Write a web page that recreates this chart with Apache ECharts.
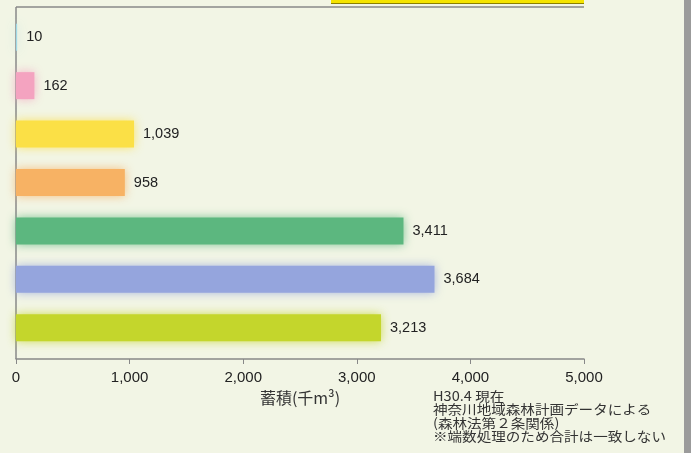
<!DOCTYPE html>
<html>
<head>
<meta charset="utf-8">
<script src="https://cdn.jsdelivr.net/npm/echarts@6/dist/echarts.min.js"></script>
<style>
html,body{margin:0;padding:0;background:#f2f5e5;}
#c{width:691px;height:453px;}
</style>
</head>
<body>
<div id="c"></div>
<script>
// Data
const categories = ["c1", "c2", "c3", "c4", "c5", "c6", "c7"];
const values = [10, 162, 1039, 958, 3411, 3684, 3213];
const barColors = ["#9fd9e6", "#f4a3c0", "#fbe046", "#f7b264", "#5cb77f", "#95a5dd", "#c4d62c"];
const xTicks = [0, 1000, 2000, 3000, 4000, 5000];
const axisName = "蓄積(千m³)";
const noteLines = ["H30.4 現在", "神奈川地域森林計画データによる", "(森林法第２条関係)", "※端数処理のため合計は一致しない"];

const chart = echarts.init(document.getElementById('c'), null, {renderer: 'canvas'});
const fmt = v => v.toLocaleString('en-US');

chart.setOption({
  backgroundColor: '#f2f5e5',
  animation: false,
  grid: {left: 16, right: 107, top: 13, bottom: 101, containLabel: false},
  xAxis: {
    type: 'value',
    min: xTicks[0], max: xTicks[xTicks.length - 1], interval: 1000,
    offset: 7,
    axisLine: {show: true, lineStyle: {color: '#888', width: 1.5}},
    axisTick: {show: true, length: 5, lineStyle: {color: '#888'}},
    splitLine: {show: false},
    axisLabel: {margin: 11, fontSize: 15, color: '#222', fontFamily: 'Liberation Sans, Arial, sans-serif', formatter: v => fmt(v)},
    name: axisName,
    nameLocation: 'middle',
    nameGap: 29,
    nameTextStyle: {fontSize: 16, color: '#333', fontFamily: '"Noto Sans CJK JP", sans-serif'}
  },
  yAxis: {
    type: 'category',
    data: categories,
    inverse: true,
    axisLine: {show: false},
    axisTick: {show: false},
    axisLabel: {show: false}
  },
  series: [{
    type: 'bar',
    data: values.map((v, i) => ({
      value: v,
      itemStyle: {color: barColors[i], shadowBlur: 10, shadowColor: barColors[i] + 'cc'}
    })),
    barWidth: 27,
    label: {
      show: true, position: 'right', distance: 9,
      fontSize: 14.5, color: '#222', fontFamily: 'Liberation Sans, Arial, sans-serif',
      formatter: p => fmt(p.value)
    }
  }],
  graphic: [
    {type: 'rect', shape: {x: 684, y: 0, width: 7, height: 453}, style: {fill: '#9b9b9b'}, silent: true},
    {type: 'rect', shape: {x: 331, y: -3, width: 253, height: 6}, style: {fill: '#f5e400'}, silent: true},
    {type: 'line', shape: {x1: 331, y1: 3.5, x2: 584, y2: 3.5}, style: {stroke: '#8a8000', lineWidth: 1}, silent: true},
    {type: 'line', shape: {x1: 16, y1: 7, x2: 584, y2: 7}, style: {stroke: '#888', lineWidth: 1.5}, silent: true},
    {type: 'line', shape: {x1: 16, y1: 7, x2: 16, y2: 359}, style: {stroke: '#888', lineWidth: 1.5}, silent: true},
    {type: 'text', x: 433, y: 389, scaleX: 1.12, silent: true,
     style: {text: noteLines.join('\n'), fontSize: 13, lineHeight: 13.5, fill: '#333', fontFamily: '"Noto Sans CJK JP", sans-serif'}}
  ]
});
</script>
</body>
</html>
